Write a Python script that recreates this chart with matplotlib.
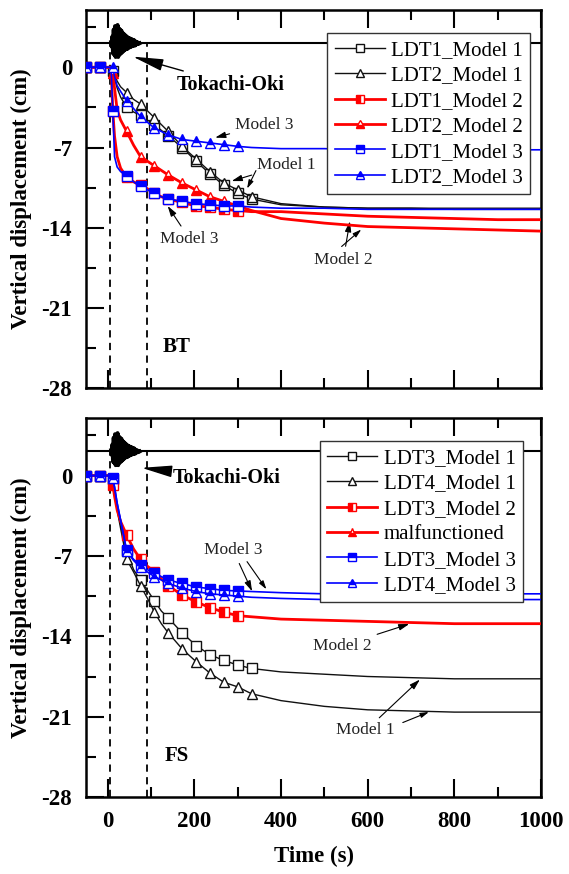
import numpy as np
import matplotlib.pyplot as plt

plt.rcParams['font.family'] = ['Liberation Serif', 'DejaVu Serif']
plt.rcParams['axes.unicode_minus'] = False

# time grid (s) shared by all LDT curves
t = [-50, -18, 8, 12, 16, 22, 30, 44, 60, 76, 92, 108, 124, 140, 172, 204,
     236, 268, 300, 332, 400, 500, 600, 700, 800, 900, 1000]

# BT panel (cm)
bt_ldt1_m1 = [0, 0, 0, -0.3, -1.0, -1.8, -2.6, -3.5, -3.9, -4.2, -4.6, -5.0, -5.5, -6.0,
              -7.0, -8.2, -9.3, -10.3, -11.0, -11.5, -12.0, -12.2, -12.3, -12.3, -12.4, -12.4, -12.4]
bt_ldt2_m1 = [0, 0, 0, -0.2, -0.6, -1.2, -1.7, -2.2, -2.8, -3.2, -3.8, -4.4, -5.0, -5.6,
              -6.9, -8.0, -9.1, -10.1, -10.7, -11.3, -11.9, -12.2, -12.3, -12.3, -12.3, -12.3, -12.3]
bt_ldt1_m2 = [0, 0, 0, -3.8, -6.0, -7.8, -8.8, -9.6, -10.0, -10.3, -10.6, -11.0, -11.3, -11.5,
              -11.8, -12.1, -12.2, -12.4, -12.5, -12.6, -12.6, -12.8, -13.0, -13.1, -13.2, -13.3, -13.3]
bt_ldt2_m2 = [0, 0, 0, -0.5, -1.8, -3.7, -4.6, -5.6, -6.8, -7.8, -8.2, -8.6, -9.0, -9.4,
              -10.1, -10.7, -11.3, -11.7, -12.1, -12.5, -13.2, -13.6, -13.9, -14.0, -14.1, -14.2, -14.3]
bt_ldt1_m3 = [0, 0, 0, -3.8, -7.8, -8.7, -9.1, -9.5, -10.0, -10.4, -10.7, -11.0, -11.3, -11.5,
              -11.7, -11.9, -12.0, -12.1, -12.1, -12.2, -12.3, -12.3, -12.4, -12.4, -12.4, -12.4, -12.4]
bt_ldt2_m3 = [0, 0, 0, 0, -0.8, -1.6, -2.1, -2.9, -3.6, -4.3, -4.8, -5.3, -5.6, -5.9,
              -6.3, -6.45, -6.6, -6.75, -6.9, -7.0, -7.1, -7.1, -7.2, -7.2, -7.2, -7.2, -7.2]

# FS panel (cm)
fs_ldt3_m1 = [0, 0, 0, -0.3, -1.3, -2.8, -4.3, -6.6, -8.2, -9.1, -10.0, -10.9, -11.8, -12.4,
              -13.7, -14.8, -15.6, -16.1, -16.5, -16.8, -17.1, -17.3, -17.5, -17.6, -17.7, -17.7, -17.7]
fs_ldt4_m1 = [0, 0, 0, -0.3, -1.5, -3.0, -4.6, -7.3, -8.4, -9.6, -10.7, -11.9, -12.9, -13.7,
              -15.1, -16.2, -17.2, -18.0, -18.4, -19.0, -19.6, -20.1, -20.4, -20.5, -20.6, -20.6, -20.6]
fs_ldt3_m2 = [0, 0, 0, -0.8, -1.8, -3.0, -4.0, -5.2, -6.4, -7.3, -7.9, -8.4, -9.0, -9.6,
              -10.4, -11.0, -11.5, -11.9, -12.2, -12.3, -12.5, -12.6, -12.7, -12.8, -12.9, -12.9, -12.9]
fs_ldt3_m3 = [0, 0, 0, -0.2, -1.0, -2.4, -3.9, -6.5, -7.3, -7.8, -8.2, -8.5, -8.8, -9.1,
              -9.4, -9.7, -9.85, -10.0, -10.05, -10.1, -10.2, -10.3, -10.3, -10.3, -10.3, -10.3, -10.3]
fs_ldt4_m3 = [0, 0, 0, -0.2, -1.0, -2.4, -3.9, -6.6, -7.4, -8.0, -8.4, -8.8, -9.1, -9.4,
              -9.8, -10.1, -10.3, -10.4, -10.5, -10.6, -10.7, -10.8, -10.8, -10.8, -10.8, -10.8, -10.8]

# Tokachi-Oki record sketch (offset from the base line)
eq_base = 2.1
eq_t = [8, 9.5, 11, 12.5, 14, 15.5, 17, 18.5, 20, 21.5, 23, 24.5, 26, 27.5, 29, 30.5, 32,
        33.5, 35, 36.5, 38, 39.5, 41, 42.5, 44, 45.5, 47, 48.5, 50, 51.5, 53, 54.5, 56,
        57.5, 59, 60.5, 62, 63.5, 65, 66.5, 68, 69.5, 71, 72.5, 74]
eq_a = [0.1, -0.3, 0.6, -0.9, 1.2, -1.0, 1.5, -1.2, 1.4, -1.1, 1.6, -1.2, 1.3, -1.0, 1.2,
        -0.9, 1.1, -0.8, 0.9, -0.7, 0.8, -0.6, 0.7, -0.5, 0.6, -0.5, 0.5, -0.4, 0.45, -0.35,
        0.4, -0.3, 0.35, -0.25, 0.3, -0.2, 0.25, -0.2, 0.15, -0.1, 0.1, -0.08, 0.05, -0.03, 0]

mark_times = [-50, -18, 12, 44, 76, 108, 140, 172, 204, 236, 268, 300]

RED = '#ff0000'
BLUE = '#0000ff'
BLACK = '#111111'

# label, data, colour, marker, fillstyle, linewidth
bt_series = [
    ('LDT1_Model 1', bt_ldt1_m1, BLACK, 's', 'none', 1.0),
    ('LDT2_Model 1', bt_ldt2_m1, BLACK, '^', 'none', 1.0),
    ('LDT1_Model 2', bt_ldt1_m2, RED, 's', 'left', 2.0),
    ('LDT2_Model 2', bt_ldt2_m2, RED, '^', 'bottom', 2.0),
    ('LDT1_Model 3', bt_ldt1_m3, BLUE, 's', 'top', 1.2),
    ('LDT2_Model 3', bt_ldt2_m3, BLUE, '^', 'top', 1.2),
]
fs_series = [
    ('LDT3_Model 1', fs_ldt3_m1, BLACK, 's', 'none', 1.0),
    ('LDT4_Model 1', fs_ldt4_m1, BLACK, '^', 'none', 1.0),
    ('LDT3_Model 2', fs_ldt3_m2, RED, 's', 'left', 2.0),
    ('malfunctioned', None, RED, '^', 'bottom', 2.0),
    ('LDT3_Model 3', fs_ldt3_m3, BLUE, 's', 'top', 1.2),
    ('LDT4_Model 3', fs_ldt4_m3, BLUE, '^', 'top', 1.2),
]

TICK_FS = 16.5
LAB_FS = 16.5
ANN = dict(fontsize=12.5, color='#222222')
ARR = dict(arrowstyle='-|>,head_length=0.5,head_width=0.15', color='k', lw=0.8)


def draw_panel(ax, series, name, legend_anchor, show_xlabels):
    ax.plot([-50, 1000], [eq_base, eq_base], color='k', lw=1.5, zorder=2)
    ax.plot(eq_t, np.array(eq_a) + eq_base, color='k', lw=2.8, zorder=3)
    for x0 in (5, 90):
        ax.plot([x0, x0], [-28, eq_base], color='k', lw=1.3, ls=(0, (4, 3)), zorder=2)

    for label, vals, col, mk, fs, lw in series:
        if vals is None:
            ax.plot([], [], color=col, lw=lw, marker=mk, ms=6.5, mec=col, mfc=col,
                    mfcalt='white', fillstyle=fs, label=label)
            continue
        lim = 332 if col == BLACK else 300
        idx = [i for i, tt in enumerate(t) if tt in mark_times or (tt == lim)]
        if fs == 'none':
            ax.plot(t, vals, color=col, lw=lw, marker=mk, ms=7.5, mec=col, mfc='white',
                    mew=1.0, markevery=idx, label=label, zorder=4)
        else:
            ax.plot(t, vals, color=col, lw=lw, marker=mk, ms=7.5, mec=col, mfc=col,
                    mfcalt='white', fillstyle=fs, mew=1.0, markevery=idx,
                    label=label, zorder=4)

    ax.set_xlim(-50, 1000)
    ax.set_ylim(-28, 5)
    ax.set_xticks([0, 200, 400, 600, 800, 1000])
    ax.set_xticks([100, 300, 500, 700, 900], minor=True)
    ax.set_yticks([0, -7, -14, -21, -28])
    ax.set_yticks([3.5, -3.5, -10.5, -17.5, -24.5], minor=True)
    ax.tick_params(which='major', direction='in', length=13, width=1.5,
                   top=True, right=False, labelsize=TICK_FS, pad=10)
    ax.tick_params(which='minor', direction='in', length=7, width=1.5,
                   top=True, right=False)
    for lab in ax.get_xticklabels() + ax.get_yticklabels():
        lab.set_fontweight('bold')
    if not show_xlabels:
        ax.tick_params(labelbottom=False)
    for sp in ax.spines.values():
        sp.set_linewidth(1.8)
    ax.set_ylabel('Vertical displacement (cm)', fontsize=LAB_FS, fontweight='bold', labelpad=7)

    leg = ax.legend(loc='upper right', bbox_to_anchor=legend_anchor, fontsize=15,
                    frameon=True, fancybox=False, edgecolor='#333333', framealpha=1,
                    handlelength=2.4, handletextpad=0.3, labelspacing=0.28,
                    borderpad=0.35, borderaxespad=0, markerscale=0.85)
    leg.get_frame().set_linewidth(1.0)
    leg.set_zorder(6)

    ax.text(160, -24.4, name, fontsize=15, fontweight='bold', ha='center', va='center')


fig = plt.figure(figsize=(5.69, 8.74), dpi=100)
ax1 = fig.add_axes([0.151, 0.556, 0.800, 0.4325])
ax2 = fig.add_axes([0.151, 0.088, 0.800, 0.4336])

draw_panel(ax1, bt_series, 'BT', (0.976, 0.939), False)
draw_panel(ax2, fs_series, 'FS', (0.960, 0.939), True)
ax2.set_xlabel('Time (s)', fontsize=LAB_FS, fontweight='bold', labelpad=10)

# Tokachi-Oki labels
quake_arrow = dict(arrowstyle='-|>,head_length=1.3,head_width=0.25', color='k', lw=1.0)
ax1.annotate('Tokachi-Oki', xy=(52, 1.0), xytext=(160, -1.5), fontsize=14.5,
             fontweight='bold', ha='left', va='center', arrowprops=quake_arrow,
             zorder=5)
ax2.annotate('Tokachi-Oki', xy=(72, 0.7), xytext=(150, -0.2), fontsize=14.5,
             fontweight='bold', ha='left', va='center', arrowprops=quake_arrow,
             zorder=5)

# BT model annotations
ax1.annotate('Model 3', xy=(242, -6.2), xytext=(294, -5.0), ha='left', va='center',
             arrowprops=ARR, **ANN)
ax1.annotate('Model 1', xy=(280, -10.0), xytext=(345, -8.5), ha='left', va='center',
             arrowprops=ARR, **ANN)
ax1.annotate('', xy=(319, -10.8), xytext=(345, -8.8), arrowprops=ARR)
ax1.annotate('Model 3', xy=(135, -11.9), xytext=(122, -15.0), ha='left', va='center',
             arrowprops=ARR, **ANN)
ax1.annotate('Model 2', xy=(560, -13.2), xytext=(476, -16.8), ha='left', va='center',
             arrowprops=ARR, **ANN)
ax1.annotate('', xy=(590, -14.0), xytext=(535, -15.8), arrowprops=ARR)

# FS model annotations
ax2.annotate('Model 3', xy=(336, -10.3), xytext=(222, -6.5), ha='left', va='center',
             arrowprops=ARR, **ANN)
ax2.annotate('', xy=(370, -10.1), xytext=(318, -7.3), arrowprops=ARR)
ax2.annotate('Model 2', xy=(702, -12.85), xytext=(474, -14.8), ha='left', va='center',
             arrowprops=ARR, **ANN)
ax2.annotate('Model 1', xy=(725, -17.6), xytext=(528, -22.2), ha='left', va='center',
             arrowprops=ARR, **ANN)
ax2.annotate('', xy=(747, -20.5), xytext=(675, -21.6), arrowprops=ARR)

fig.savefig('out.png', dpi=100)
